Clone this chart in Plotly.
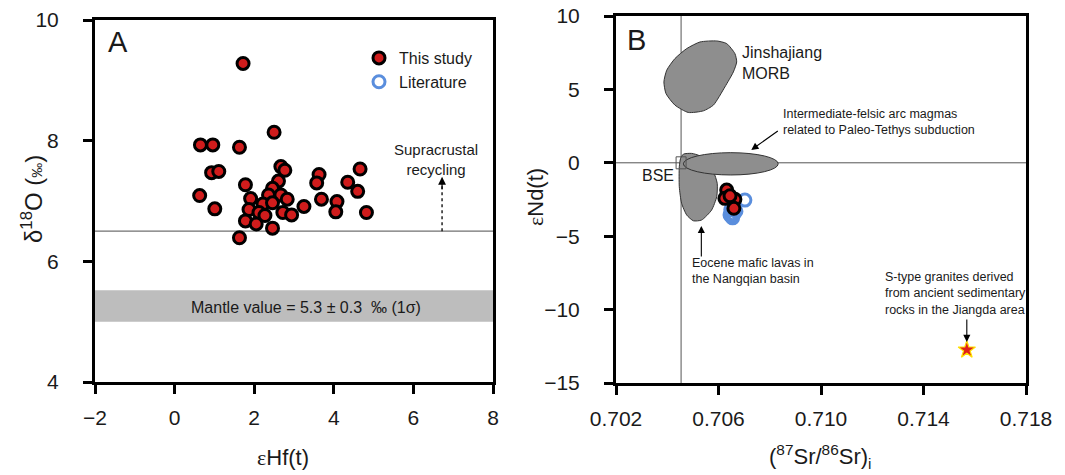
import plotly.graph_objects as go

# ---------------- data ----------------
# Panel A: eHf(t) vs d18O, this study
hf_this = [1.72, 2.50, 0.65, 0.96, 1.63, 2.67, 2.77, 0.93, 1.11, 3.63, 3.57, 4.66, 4.35, 4.60,
           1.78, 2.61, 2.46, 0.63, 2.67, 2.36, 2.83, 1.91, 3.25, 3.69, 4.08, 4.05, 4.82, 1.01,
           2.22, 2.46, 1.87, 2.12, 2.27, 2.72, 2.94, 1.78, 2.05, 2.46, 1.63]
o18_this = [9.28, 8.14, 7.93, 7.93, 7.89, 7.57, 7.51, 7.47, 7.49, 7.44, 7.30, 7.53, 7.31, 7.16,
            7.27, 7.33, 7.21, 7.09, 7.10, 7.10, 7.03, 7.04, 6.91, 7.03, 6.99, 6.82, 6.81, 6.87,
            6.95, 6.97, 6.86, 6.81, 6.76, 6.81, 6.77, 6.67, 6.62, 6.55, 6.39]

# Panel B: (87Sr/86Sr)i vs eNd(t)
sr_this = [0.70632, 0.70625, 0.70664, 0.70660, 0.70645]
nd_this = [-1.86, -2.42, -2.49, -3.10, -2.25]
sr_lit = [0.70703, 0.70651, 0.70660, 0.70645, 0.70668, 0.70655, 0.70648]
nd_lit = [-2.54, -3.67, -3.50, -3.55, -3.30, -3.75, -3.20]

sr_stype = [0.71569]
nd_stype = [-12.74]

# reference lines / fields
mantle_band = [5.0, 5.52]
supra_line = 6.5
bse_sr, bse_nd = 0.70454, 0.0

morb_sr = [0.70593, 0.70632, 0.70664, 0.70671, 0.70658, 0.70625, 0.70580, 0.70541, 0.70482,
           0.70430, 0.70395, 0.70387, 0.70398, 0.70430, 0.70476, 0.70528, 0.70593]
morb_nd = [8.30, 8.12, 7.44, 6.87, 6.19, 5.17, 3.93, 3.54, 3.43,
           3.93, 4.72, 5.51, 6.31, 7.10, 7.78, 8.23, 8.30]

eoc_sr = [0.70463, 0.70495, 0.70528, 0.70580, 0.70595, 0.70593, 0.70573, 0.70534, 0.70502,
          0.70476, 0.70456, 0.70447, 0.70447, 0.70452, 0.70463]
eoc_nd = [0.59, 0.64, 0.46, -0.61, -1.40, -2.31, -3.22, -3.90, -3.95,
          -3.56, -2.76, -1.63, -0.27, 0.30, 0.59]

arc_sr = [0.70463, 0.70833]
arc_nd = [-0.83, 0.69]

# page body margin is removed by post_script, so the figure sits at (0, 0)
OFF = 0
W, H = 1065 - OFF, 475 - OFF
def px(v):
    return (v - OFF) / W
def py(v):
    return 1 - (v - OFF) / H

FONT = "Arial, Liberation Sans, sans-serif"
RED = "#D01C1C"
BLUE = "#5A8EDD"
FIELD = "#8E8E8E"

fig = go.Figure()

# ---- panel A ----
fig.add_shape(type="rect", xref="x", yref="y", x0=-2, x1=8, y0=mantle_band[0], y1=mantle_band[1],
              fillcolor="#BDBDBD", line_width=0, layer="below")
fig.add_shape(type="line", xref="x", yref="y", x0=-2, x1=8, y0=supra_line, y1=supra_line,
              line=dict(color="#707070", width=1.2), layer="below")
fig.add_trace(go.Scatter(x=[6.72, 6.72], y=[supra_line, 7.33], mode="lines",
                         line=dict(color="black", width=1.3, dash="dot"),
                         showlegend=False, hoverinfo="skip", xaxis="x", yaxis="y"))
fig.add_annotation(xref="x", yref="y", x=6.72, y=7.40, ax=0, ay=14, showarrow=True,
                   arrowhead=2, arrowsize=1.3, arrowwidth=1.2, arrowcolor="black", text="")

fig.add_trace(go.Scatter(x=hf_this, y=o18_this, mode="markers", name="This study",
                         marker=dict(symbol="circle", size=12, color=RED,
                                     line=dict(color="black", width=3)),
                         xaxis="x", yaxis="y", showlegend=True))

# ---- panel B ----
fig.add_shape(type="line", xref="x2", yref="y2", x0=bse_sr, x1=bse_sr, y0=-15, y1=10,
              line=dict(color="#555555", width=1), layer="below")
fig.add_shape(type="line", xref="x2", yref="y2", x0=0.702, x1=0.718, y0=bse_nd, y1=bse_nd,
              line=dict(color="#555555", width=1), layer="below")

fig.add_trace(go.Scatter(x=morb_sr, y=morb_nd, mode="lines", fill="toself",
                         fillcolor=FIELD, line=dict(color="#333333", width=1, shape="spline", smoothing=0.6),
                         showlegend=False, hoverinfo="skip", xaxis="x2", yaxis="y2"))
fig.add_trace(go.Scatter(x=eoc_sr, y=eoc_nd, mode="lines", fill="toself",
                         fillcolor=FIELD, line=dict(color="#333333", width=1, shape="spline", smoothing=0.6),
                         showlegend=False, hoverinfo="skip", xaxis="x2", yaxis="y2"))
fig.add_shape(type="circle", xref="x2", yref="y2", x0=arc_sr[0], x1=arc_sr[1], y0=arc_nd[0], y1=arc_nd[1],
              fillcolor=FIELD, line=dict(color="#333333", width=1), layer="above")
fig.add_shape(type="rect", xref="x2", yref="y2", xsizemode="pixel", ysizemode="pixel",
              xanchor=bse_sr, yanchor=bse_nd, x0=-5, x1=5, y0=-6, y1=6,
              line=dict(color="#555555", width=1), fillcolor="rgba(0,0,0,0)", layer="above")

fig.add_trace(go.Scatter(x=sr_lit, y=nd_lit, mode="markers", name="Literature",
                         marker=dict(symbol="circle-open", size=12, color=BLUE,
                                     line=dict(color=BLUE, width=3)),
                         xaxis="x2", yaxis="y2", showlegend=True))
fig.add_trace(go.Scatter(x=sr_this, y=nd_this, mode="markers", name="This study",
                         marker=dict(symbol="circle", size=12, color=RED,
                                     line=dict(color="black", width=3)),
                         xaxis="x2", yaxis="y2", showlegend=False))
fig.add_trace(go.Scatter(x=sr_stype, y=nd_stype, mode="markers",
                         marker=dict(symbol="star", size=13, color="#E0201B",
                                     line=dict(color="#FFE000", width=1.2)),
                         xaxis="x2", yaxis="y2", showlegend=False))

# ---- axes ----
ax_common = dict(showline=True, linewidth=3, linecolor="black", mirror=True,
                 ticks="outside", ticklen=9, tickwidth=3, tickcolor="black",
                 showgrid=False, zeroline=False, automargin=False,
                 ticklabeloverflow="allow",
                 tickfont=dict(family=FONT, size=21, color="#1a1a1a"))

fig.update_layout(
    width=W, height=H,
    margin=dict(l=0, r=0, t=0, b=0, pad=0, autoexpand=False),
    paper_bgcolor="white", plot_bgcolor="white",
    font=dict(family=FONT, color="#1a1a1a"),
    xaxis=dict(domain=[px(95), px(493)], range=[-2, 8], dtick=2, tick0=-2,
               ticklabelstandoff=6, **ax_common),
    yaxis=dict(domain=[py(382), py(20)], range=[4, 10], dtick=2, tick0=4,
               ticklabelstandoff=20, **ax_common),
    xaxis2=dict(domain=[px(616), px(1026)], range=[0.702, 0.718], dtick=0.004, tick0=0.702,
                tickformat=".3f", ticklabelstandoff=6, anchor="y2", **ax_common),
    yaxis2=dict(domain=[py(383), py(16)], range=[-15, 10], dtick=5, tick0=-15,
                ticklabelstandoff=20, anchor="x2", **ax_common),
    legend=dict(x=px(359), y=py(41), xanchor="left", yanchor="top",
                bgcolor="rgba(0,0,0,0)", borderwidth=0,
                font=dict(family=FONT, size=16, color="#1a1a1a"),
                tracegroupgap=0, itemwidth=30),
    showlegend=True,
)

def ann(text, x, y, size, xanchor="center", yanchor="middle", align="center", angle=0):
    fig.add_annotation(xref="paper", yref="paper", x=px(x), y=py(y), text=text,
                       showarrow=False, xanchor=xanchor, yanchor=yanchor, align=align,
                       textangle=angle, font=dict(family=FONT, size=size, color="#1a1a1a"))

EPS = "<span style='font-family:Times New Roman, Liberation Serif, serif'>ε</span>"

# axis titles
ann(EPS + "Hf(t)", 283, 457, 22)
ann("δ<sup>18</sup>O (<span style='font-size:15px'>‰</span>)", 32, 199, 24, angle=-90)
ann(EPS + "Nd(t)", 535, 197, 22, angle=-90)
ann("(<sup>87</sup>Sr/<sup>86</sup>Sr)<sub>i</sub>", 820, 456, 22)

# panel letters
ann("A", 118, 42, 29)
ann("B", 636, 40, 29)

# panel A texts
ann("Supracrustal<br>recycling", 436, 159, 15)
ann("Mantle value = 5.3 ± 0.3  ‰ (1σ)", 306, 307, 16)

# panel B texts
ann("Jinshajiang<br>MORB", 740, 63, 16, xanchor="left", align="left")
ann("Intermediate-felsic arc magmas<br>related to Paleo-Tethys subduction", 781, 122, 12.5,
    xanchor="left", align="left")
ann("BSE", 658, 175, 16)
ann("Eocene mafic lavas in<br>the Nangqian basin", 690, 271, 12.5, xanchor="left", align="left")
ann("S-type granites derived<br>from ancient sedimentary<br>rocks in the Jiangda area", 883, 293, 12.5,
    xanchor="left", align="left")

# arrows (tip in data coords, tail offset in pixels)
fig.add_annotation(xref="x2", yref="y2", x=0.70728, y=0.88, ax=28, ay=-20, text="", showarrow=True,
                   arrowhead=2, arrowsize=1.3, arrowwidth=1.1, arrowcolor="black")
fig.add_annotation(xref="x2", yref="y2", x=0.70533, y=-4.30, ax=0, ay=32, text="", showarrow=True,
                   arrowhead=2, arrowsize=1.3, arrowwidth=1.1, arrowcolor="black")
fig.add_annotation(xref="x2", yref="y2", x=0.71569, y=-12.2, ax=0, ay=-24, text="", showarrow=True,
                   arrowhead=2, arrowsize=1.3, arrowwidth=1.1, arrowcolor="black")

fig.write_html("out.html", config={"displayModeBar": False},
               post_script="document.body.style.margin='0';document.body.style.overflow='hidden';")
